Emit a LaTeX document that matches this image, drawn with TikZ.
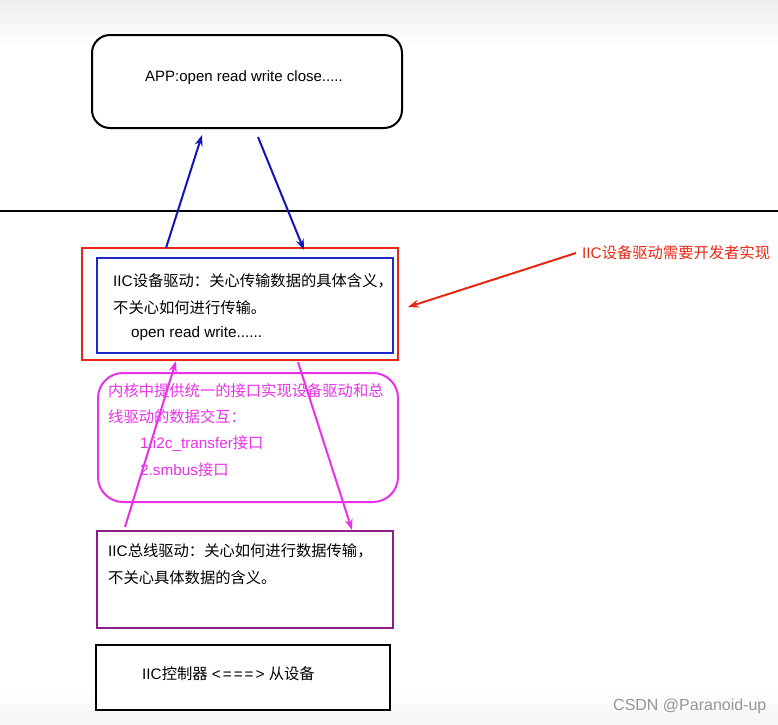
\documentclass[tikz,border=0pt]{standalone}
\usepackage{fontspec}
\setmainfont{Liberation Sans}
\newfontfamily\cjk{Noto Sans CJK SC}
\usetikzlibrary{arrows.meta}
\definecolor{myred}{RGB}{232,40,20}
\definecolor{myblue}{RGB}{30,40,200}
\definecolor{arrblue}{RGB}{20,20,185}
\definecolor{mymag}{RGB}{232,50,232}
\definecolor{mypurple}{RGB}{140,30,140}
\definecolor{wmgray}{RGB}{150,150,150}
\begin{document}
\begin{tikzpicture}[x=1pt,y=-1pt,
  box/.style={draw, line width=2pt, inner sep=0pt, fill=white},
  txt/.style={anchor=west, inner sep=0pt, font=\fontsize{15.3}{18}\selectfont},
  arr/.style={line width=2pt, -{Stealth[length=11pt,width=8pt]}}]
\useasboundingbox (0,0) rectangle (778,724);
\fill[white] (0,0) rectangle (778,724);
\shade[top color=gray!14, bottom color=white] (0,0) rectangle (778,45);
\shade[top color=white, bottom color=gray!8] (0,690) rectangle (778,724);

% boxes
\node[box, rounded corners=18pt, minimum width=310pt, minimum height=93pt] (app) at (247,81.5) {};
\node[txt, anchor=center, font=\fontsize{15}{18}\selectfont] (apptxt) at (244,78) {APP:open read write close.....};

\draw[line width=2pt] (0,211) coordinate (hl) -- (778,211) coordinate (hr);

\node[box, draw=myred, minimum width=316pt, minimum height=112pt] (dev) at (240,304) {};
\node[box, draw=myblue, minimum width=296pt, minimum height=95pt] (devin) at (245,305.5) {};
\node[txt] (d1) at (113,281) {IIC{\cjk 设备驱动：关心传输数据的具体含义，}};
\node[txt] (d2) at (113,308) {{\cjk 不关心如何进行传输。}};
\node[txt] (d3) at (131,334) {open read write......};

\node[box, draw=mymag, rounded corners=25pt, minimum width=300pt, minimum height=129pt] (core) at (248,437.5) {};
\node[txt, text=mymag] (c1) at (108,391) {{\cjk 内核中提供统一的接口实现设备驱动和总}};
\node[txt, text=mymag] (c2) at (108,417) {{\cjk 线驱动的数据交互：}};
\node[txt, text=mymag] (c3) at (140,444) {1.i2c\_transfer{\cjk 接口}};
\node[txt, text=mymag] (c4) at (140,470) {2.smbus{\cjk 接口}};

\node[box, draw=mypurple, minimum width=296pt, minimum height=97pt] (bus) at (245,579.5) {};
\node[txt] (b1) at (108,551) {IIC{\cjk 总线驱动：关心如何进行数据传输，}};
\node[txt] (b2) at (108,578) {{\cjk 不关心具体数据的含义。}};

\node[box, minimum width=294pt, minimum height=65pt] (ctrl) at (243,677.5) {};
\node[txt] (ctxt) at (142,674) {IIC{\cjk 控制器} <\kern2pt=\kern2pt=\kern2pt=\kern2pt> {\cjk 从设备}};

\node[txt, text=myred] (lab) at (582,253) {IIC{\cjk 设备驱动需要开发者实现}};
\node[txt, text=wmgray, font=\fontsize{16}{18}\selectfont] (wm) at (613,706) {CSDN @Paranoid-up};

% arrow end points
\coordinate (u1s) at (166,248);
\coordinate (u1e) at (202,135);
\coordinate (d1s) at (258,137);
\coordinate (d1e) at (304,250);
\coordinate (rs) at (576,253);
\coordinate (re) at (408,307);
\coordinate (u2s) at (125,527);
\coordinate (u2e) at (176,361);
\coordinate (d2s) at (298,362);
\coordinate (d2e) at (352,530);

\draw[arr, arrblue] (u1s) -- (u1e);
\draw[arr, arrblue] (d1s) -- (d1e);
\draw[arr, myred] (rs) -- (re);
\draw[arr, mymag] (u2s) -- (u2e);
\draw[arr, mymag] (d2s) -- (d2e);
\end{tikzpicture}
\end{document}
